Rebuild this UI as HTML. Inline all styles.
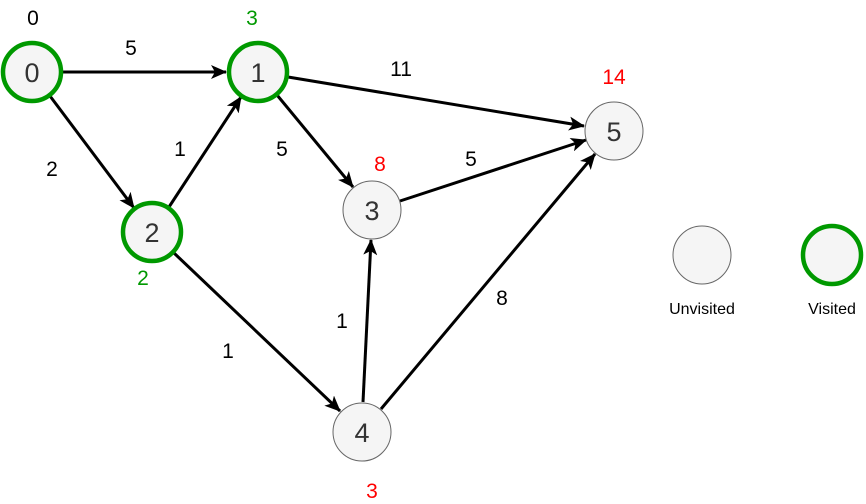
<!DOCTYPE html>
<html><head><meta charset="utf-8"><style>
html,body{margin:0;padding:0;background:#fff;}
svg{display:block;font-family:"Liberation Sans",Arial,sans-serif;}
</style></head><body>
<svg width="866" height="504" viewBox="0 0 866 504" xmlns="http://www.w3.org/2000/svg">
<defs>
<marker id="a" markerUnits="userSpaceOnUse" markerWidth="16" markerHeight="14" refX="15" refY="7" orient="auto">
<path d="M0,0 L16,7 L0,14 L4,7 Z" fill="#000"/>
</marker>
</defs>
<g stroke="#000" stroke-width="3" fill="none" marker-end="url(#a)">
<line x1="62" y1="72" x2="226" y2="72"/>
<line x1="50" y1="96" x2="134" y2="208"/>
<line x1="169" y1="207" x2="241" y2="97"/>
<line x1="288" y1="77" x2="584" y2="126"/>
<line x1="277" y1="95" x2="353" y2="187"/>
<line x1="400" y1="201" x2="586" y2="140"/>
<line x1="174" y1="253" x2="340" y2="411"/>
<line x1="363" y1="402" x2="371" y2="240"/>
<line x1="381" y1="409" x2="595" y2="154"/>
</g>
<g fill="#f5f5f5">
<circle cx="32" cy="72" r="29" stroke="#009900" stroke-width="4.5"/>
<circle cx="258" cy="72" r="29" stroke="#009900" stroke-width="4.5"/>
<circle cx="152" cy="232" r="29" stroke="#009900" stroke-width="4.5"/>
<circle cx="372" cy="210" r="29" stroke="#666" stroke-width="1"/>
<circle cx="362" cy="432" r="29" stroke="#666" stroke-width="1"/>
<circle cx="614" cy="131" r="29" stroke="#666" stroke-width="1"/>
<circle cx="702" cy="255" r="29" stroke="#666" stroke-width="1"/>
<circle cx="832" cy="255" r="29" stroke="#009900" stroke-width="4.5"/>
</g>
<g fill="#333" font-size="27" text-anchor="middle">
<text x="32" y="82">0</text>
<text x="258" y="82">1</text>
<text x="152" y="242">2</text>
<text x="372" y="220">3</text>
<text x="362" y="442">4</text>
<text x="614" y="141">5</text>
</g>
<g font-size="21" text-anchor="middle" fill="#000">
<text x="33" y="25">0</text>
<text x="252" y="25" fill="#009900">3</text>
<text x="614" y="84" fill="#ff0000">14</text>
<text x="380" y="171" fill="#ff0000">8</text>
<text x="143" y="285" fill="#009900">2</text>
<text x="372" y="498" fill="#ff0000">3</text>
<text x="131" y="55">5</text>
<text x="401" y="76">11</text>
<text x="180" y="156">1</text>
<text x="52" y="176">2</text>
<text x="282" y="156">5</text>
<text x="471" y="166">5</text>
<text x="228" y="358">1</text>
<text x="342" y="328">1</text>
<text x="502" y="305">8</text>
</g>
<g font-size="16" text-anchor="middle" fill="#000">
<text x="702" y="314">Unvisited</text>
<text x="832" y="314">Visited</text>
</g>
</svg>
</body></html>
